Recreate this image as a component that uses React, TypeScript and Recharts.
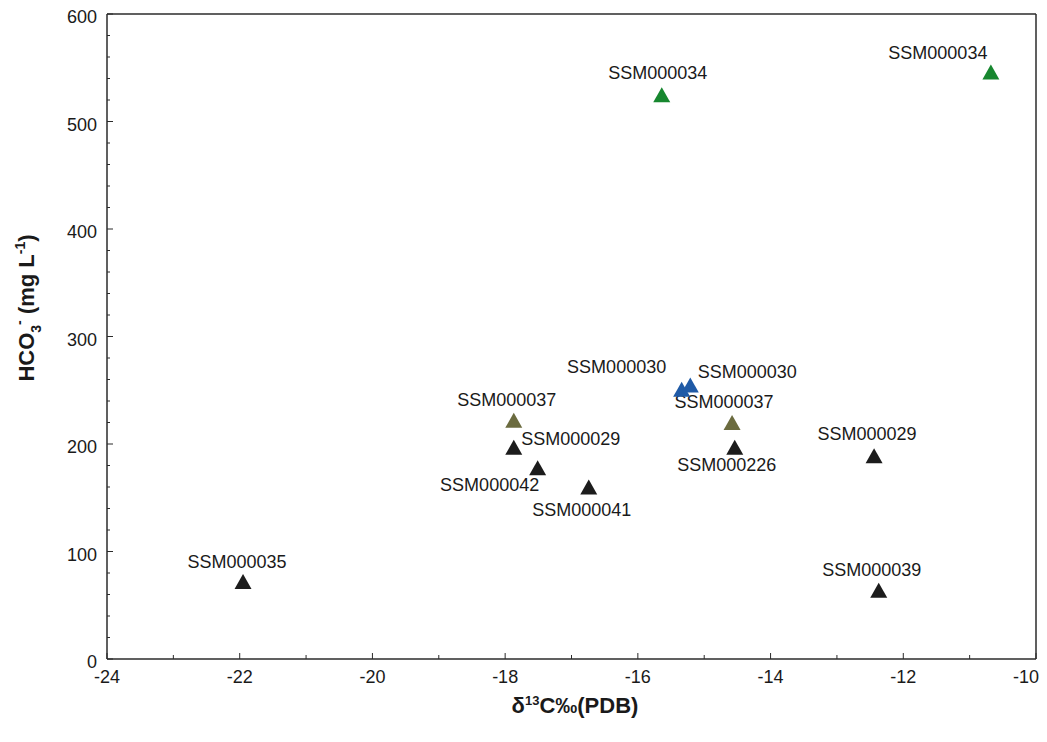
import { ScatterChart, Scatter, XAxis, YAxis } from 'recharts'

// δ13C (x) vs HCO3- (y) per sample, grouped by marker colour
const greenNames = ['SSM000034', 'SSM000034']
const greenX = [-15.64, -10.68]
const greenY = [525, 546]

const blueNames = ['SSM000030', 'SSM000030']
const blueX = [-15.34, -15.21]
const blueY = [251, 255]

const oliveNames = ['SSM000037', 'SSM000037']
const oliveX = [-17.87, -14.58]
const oliveY = [222, 220]

const blackNames = ['SSM000029', 'SSM000042', 'SSM000041', 'SSM000226', 'SSM000029', 'SSM000035', 'SSM000039']
const blackX = [-17.87, -17.51, -16.74, -14.54, -12.44, -21.95, -12.37]
const blackY = [197, 178, 160, 197, 189, 72, 64]

const xTicks = [-24, -23, -22, -21, -20, -19, -18, -17, -16, -15, -14, -13, -12, -11, -10]
const yTicks = [
  0, 20, 40, 60, 80, 100, 120, 140, 160, 180, 200, 220, 240, 260, 280, 300,
  320, 340, 360, 380, 400, 420, 440, 460, 480, 500, 520, 540, 560, 580, 600,
]

// label placement relative to the marker (dx, dy of text centre)
const greenLabelPos = [[-4, -22], [-53, -19]]
const blueLabelPos = [[-65, -22], [57, -13]]
const oliveLabelPos = [[-7, -20], [-8, -21]]
const blackLabelPos = [[57, -8], [-48, 17], [-7, 23], [-8, 18], [-7, -22], [-6, -20], [-7, -20]]

const FONT = '"Liberation Sans", Arial, sans-serif'
const INK = '#1a1a1a'
const FRAME = '#2b2b2b'

const rows = (names: string[], xs: number[], ys: number[]) =>
  names.map((name, i) => ({ name, x: xs[i], y: ys[i], i }))

function makeShape(color: string, pos: number[][]) {
  return (p: any) => {
    const { cx, cy, payload } = p
    const [dx, dy] = pos[payload.i]
    return (
      <g>
        <polygon
          points={`${cx},${cy - 7.5} ${cx + 8.5},${cy + 7.5} ${cx - 8.5},${cy + 7.5}`}
          fill={color}
        />
        <text
          x={cx + dx}
          y={cy + dy + 6}
          textAnchor="middle"
          fontSize={18}
          fontFamily={FONT}
          fill={INK}
        >
          {payload.name}
        </text>
      </g>
    )
  }
}

const BottomTick = (p: any) => {
  const { x, y, payload } = p
  const v = payload.value
  const major = v % 2 === 0
  // last label sits at the page edge, pull it in so it stays visible
  const tx = v === -10 ? x - 10 : x
  return (
    <g>
      <line x1={x} x2={x} y1={y} y2={y - (major ? 6 : 4)} stroke={FRAME} strokeWidth={1} />
      {major && (
        <text x={tx} y={y + 24} textAnchor="middle" fontSize={18} fontFamily={FONT} fill={INK}>
          {v}
        </text>
      )}
    </g>
  )
}

const TopTick = (p: any) => {
  const { x, y, payload } = p
  const major = payload.value % 2 === 0
  return <line x1={x} x2={x} y1={y} y2={y + (major ? 6 : 4)} stroke={FRAME} strokeWidth={1} />
}

const LeftTick = (p: any) => {
  const { x, y, payload } = p
  const v = payload.value
  const major = v % 100 === 0
  return (
    <g>
      <line x1={x} x2={x + (major ? 6 : 3)} y1={y} y2={y} stroke={FRAME} strokeWidth={1} />
      {major && (
        <text x={x - 10} y={y + 9} textAnchor="end" fontSize={18} fontFamily={FONT} fill={INK}>
          {v}
        </text>
      )}
    </g>
  )
}

const RightTick = (p: any) => {
  const { x, y, payload } = p
  const major = payload.value % 100 === 0
  return <line x1={x} x2={x - (major ? 6 : 3)} y1={y} y2={y} stroke={FRAME} strokeWidth={1} />
}

const YTitle = () => (
  <text
    transform="translate(26, 300) rotate(-90)"
    textAnchor="middle"
    fontSize={22}
    fontWeight="bold"
    fontFamily={FONT}
    fill={INK}
  >
    HCO
    <tspan fontSize={14} dy={7}>3</tspan>
    <tspan fontSize={14} dy={-17}>-</tspan>
    <tspan dy={10}> (mg L</tspan>
    <tspan fontSize={14} dy={-9}>-1</tspan>
    <tspan dy={9}>)</tspan>
  </text>
)

const XTitle = () => (
  <text x={567} y={705} textAnchor="middle" fontSize={22} fontWeight="bold" fontFamily={FONT} fill={INK}>
    δ<tspan fontSize={13} dy={-8}>13</tspan>
    <tspan dy={8}>C‰(PDB)</tspan>
  </text>
)

export default function App() {
  const axisLine = { stroke: FRAME, strokeWidth: 1.5 }
  return (
    <div style={{ width: 1039, height: 718, overflow: 'hidden', background: '#fff' }}>
      <ScatterChart width={1039} height={718} margin={{ top: 0, right: 0, bottom: 0, left: 0 }}>
        <XAxis
          xAxisId="top"
          orientation="top"
          type="number"
          dataKey="x"
          domain={[-24, -10]}
          ticks={xTicks}
          interval={0}
          height={6}
          tickSize={0}
          tickMargin={0}
          tickLine={false}
          axisLine={axisLine}
          tick={<TopTick />}
        />
        <XAxis
          xAxisId="x"
          type="number"
          dataKey="x"
          domain={[-24, -10]}
          ticks={xTicks}
          interval={0}
          height={67}
          tickSize={0}
          tickMargin={0}
          tickLine={false}
          axisLine={axisLine}
          tick={<BottomTick />}
        />
        <YAxis
          yAxisId="y"
          type="number"
          dataKey="y"
          domain={[0, 600]}
          ticks={yTicks}
          interval={0}
          width={99}
          tickSize={0}
          tickMargin={0}
          tickLine={false}
          axisLine={axisLine}
          tick={<LeftTick />}
        />
        <YAxis
          yAxisId="right"
          orientation="right"
          type="number"
          dataKey="y"
          domain={[0, 600]}
          ticks={yTicks}
          interval={0}
          width={11}
          tickSize={0}
          tickMargin={0}
          tickLine={false}
          axisLine={axisLine}
          tick={<RightTick />}
        />
        <Scatter
          xAxisId="x"
          yAxisId="y"
          data={rows(blackNames, blackX, blackY)}
          shape={makeShape('#1c1c1c', blackLabelPos)}
          isAnimationActive={false}
        />
        <Scatter
          xAxisId="x"
          yAxisId="y"
          data={rows(oliveNames, oliveX, oliveY)}
          shape={makeShape('#6b6b3f', oliveLabelPos)}
          isAnimationActive={false}
        />
        <Scatter
          xAxisId="x"
          yAxisId="y"
          data={rows(blueNames, blueX, blueY)}
          shape={makeShape('#1f5aa6', blueLabelPos)}
          isAnimationActive={false}
        />
        <Scatter
          xAxisId="x"
          yAxisId="y"
          data={rows(greenNames, greenX, greenY)}
          shape={makeShape('#17872f', greenLabelPos)}
          isAnimationActive={false}
        />
        <Scatter
          xAxisId="top"
          yAxisId="right"
          data={[]}
          isAnimationActive={false}
        />
        <YTitle />
        <XTitle />
      </ScatterChart>
    </div>
  )
}
